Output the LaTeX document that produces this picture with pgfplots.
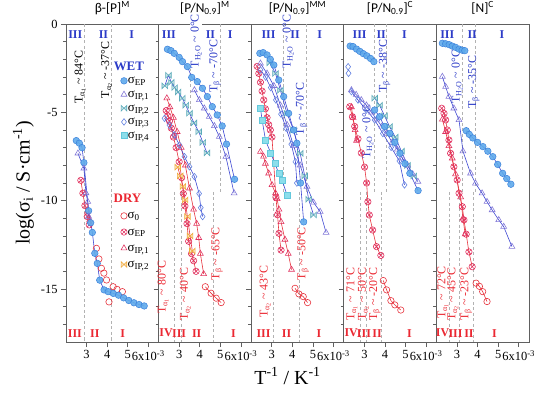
\documentclass[border=0pt]{standalone}
\usepackage{fontspec}
\setmainfont{Liberation Serif}
\newfontfamily\calibri{Carlito}
\usepackage{pgfplots}
\pgfplotsset{compat=1.18}
\usepgfplotslibrary{groupplots}

\definecolor{wline}{RGB}{60,70,210}
\definecolor{wfill}{RGB}{95,170,235}
\definecolor{wdraw}{RGB}{60,130,220}
\definecolor{wtri}{RGB}{130,120,215}
\definecolor{wteal}{RGB}{90,170,185}
\definecolor{wdia}{RGB}{100,130,225}
\definecolor{cfill}{RGB}{140,222,235}
\definecolor{cdraw}{RGB}{100,200,220}
\definecolor{dred}{RGB}{230,50,60}
\definecolor{dpink}{RGB}{225,50,95}
\definecolor{dorange}{RGB}{240,170,60}
\definecolor{numblue}{RGB}{45,60,200}
\definecolor{numred}{RGB}{235,40,50}

\pgfdeclareplotmark{bowtie}{%
  \pgfpathmoveto{\pgfqpoint{-\pgfplotmarksize}{\pgfplotmarksize}}%
  \pgfpathlineto{\pgfqpoint{\pgfplotmarksize}{-\pgfplotmarksize}}%
  \pgfpathlineto{\pgfqpoint{\pgfplotmarksize}{\pgfplotmarksize}}%
  \pgfpathlineto{\pgfqpoint{-\pgfplotmarksize}{-\pgfplotmarksize}}%
  \pgfpathclose
  \pgfusepathqfillstroke}

\pgfplotsset{
  wl/.style={forget plot, color=wline, line width=0.6pt},
  dl/.style={forget plot, color=dred, line width=0.6pt},
  dash/.style={forget plot, gray!60, line width=0.6pt, dash pattern=on 3bp off 2.5bp},
  mEP/.style={mark=*, mark size=3.3bp, mark options={solid, draw=wdraw, fill=wfill, fill opacity=0.9, line width=0.5pt}},
  mIP1/.style={mark=triangle, mark size=3.4bp, mark options={solid, draw=wtri, line width=0.6pt}},
  mIP2/.style={mark=bowtie, mark size=2.8bp, mark options={solid, draw=wteal, fill=wteal!35, line width=0.6pt}},
  mIP3/.style={mark=diamond, mark size=3.3bp, mark options={solid, draw=wdia, line width=0.6pt}},
  mIP4/.style={mark=square*, mark size=3.0bp, mark options={solid, draw=cdraw, fill=cfill, line width=0.5pt}},
  m0/.style={mark=o, mark size=3.2bp, mark options={solid, draw=dred, line width=0.6pt}},
  mEPd/.style={mark=otimes, mark size=3.2bp, mark options={solid, draw=dpink, line width=0.6pt}},
  mIP1d/.style={mark=triangle, mark size=3.4bp, mark options={solid, draw=dpink, line width=0.6pt}},
  mIP2d/.style={mark=bowtie, mark size=2.8bp, mark options={solid, draw=dorange, fill=dorange!35, line width=0.6pt}},
}
\tikzset{
  rb/.style={text=numblue, font=\bfseries\fontsize{12}{12}\selectfont, inner sep=0pt},
  rr/.style={text=numred, font=\bfseries\fontsize{12}{12}\selectfont, inner sep=0pt},
  ann/.style={rotate=90, font=\fontsize{12}{12}\selectfont, inner sep=0.5pt},
}

\begin{document}
\begin{tikzpicture}
\begin{groupplot}[
  group style={group size=5 by 1, horizontal sep=0pt, y descriptions at=edge left},
  scale only axis, width=92.6bp, height=318bp,
  xmin=2, xmax=6.5, ymin=-18, ymax=0,
  xtick={3,4,5,6}, xticklabels={3,4,5,{6x10\textsuperscript{-3}}},
  ytick={0,-5,-10,-15}, yticklabels={0,-5,-10,-15},
  minor ytick={-17,-16,...,-1},
  tick align=outside, xtick pos=bottom, ytick pos=left,
  major tick length=5bp, minor tick length=3bp,
  axis line style={gray!75!black, line width=0.8pt},
  tick style={gray!75!black, line width=0.7pt},
  ticklabel style={font=\fontsize{12.5}{14}\selectfont},
  /pgf/number format/assume math mode=true,
  title style={font=\calibri\fontsize{13.5}{14}\selectfont, at={(0.5,1)}, anchor=base, yshift=5.5bp},
  clip=false,
]
%================ panel 1 ================
\nextgroupplot[title={β-[P]\textsuperscript{M}},
  ylabel={log(σ\textsubscript{i} / S·cm\textsuperscript{-1})},
  ylabel style={font=\fontsize{20}{22}\selectfont},
  legend style={at={(axis cs:4.25,-1.95)}, anchor=north west, draw=none, fill=none,
    font=\fontsize{13}{13}\selectfont, row sep=0.7bp,
    nodes={inner sep=0.5bp, text height=9bp, text depth=3bp}},
  legend cell align=left]
\addlegendimage{empty legend}\addlegendentry{\hspace*{-14bp}\textcolor{numblue}{\bfseries WET}}
\addlegendimage{only marks, mEP}\addlegendentry{σ\textsubscript{EP}}
\addlegendimage{only marks, mIP1}\addlegendentry{σ\textsubscript{IP,1}}
\addlegendimage{only marks, mIP2}\addlegendentry{σ\textsubscript{IP,2}}
\addlegendimage{only marks, mIP3}\addlegendentry{σ\textsubscript{IP,3}}
\addlegendimage{only marks, mIP4}\addlegendentry{σ\textsubscript{IP,4}}
\addplot[dash] coordinates {(2.90,0)(2.90,-18)};
\addplot[dash] coordinates {(4.22,0)(4.22,-18)};
\addplot[only marks, forget plot, m0] coordinates {(3.48,-12.70)(3.60,-13.30)(3.72,-13.83)(3.84,-14.10)(3.97,-14.49)(4.09,-15.73)(4.29,-14.87)(4.48,-15.02)(4.74,-15.15)};
\addplot[dl, mEPd] coordinates {(2.72,-8.85)(2.82,-9.58)(2.92,-10.28)(3.03,-10.90)(3.13,-11.37)};
\addplot[dl, mIP1d] coordinates {(3.05,-10.6)(3.15,-11.1)};
\addplot[wl, mEP] coordinates {(2.50,-6.60)(2.65,-6.75)(2.78,-7.00)(2.87,-7.85)(3.10,-10.57)(3.20,-11.25)(3.28,-11.80)(3.40,-12.98)(3.52,-13.55)(3.64,-14.50)(3.85,-15.05)(4.05,-15.15)(4.30,-15.25)(4.55,-15.35)(4.80,-15.50)(5.05,-15.65)(5.30,-15.78)(5.55,-15.88)(5.80,-15.96)};
\addplot[wl, mIP1] coordinates {(2.58,-7.32)(2.87,-8.17)(2.97,-9.57)(3.06,-10.06)(3.10,-10.90)};
\node[rb] at (axis cs:2.45,-0.62) {III};
\node[rb] at (axis cs:3.82,-0.62) {II};
\node[rb] at (axis cs:5.19,-0.62) {I};
\node[rr] at (axis cs:2.43,-17.5) {III};
\node[rr] at (axis cs:3.40,-17.5) {II};
\node[rr] at (axis cs:4.75,-17.5) {I};
\node[ann] at (axis cs:2.69,-3.0) {T\textsubscript{α\textsubscript{1}} \textasciitilde\ 84°C};
\node[ann] at (axis cs:3.98,-2.6) {T\textsubscript{α\textsubscript{2}} \textasciitilde\ -37°C};
%================ panel 2 ================
\nextgroupplot[title={[P/N\textsubscript{0.9}]\textsuperscript{M}}]
\addplot[dash] coordinates {(3.55,0)(3.55,-9.5)};
\addplot[dash] coordinates {(5.00,0)(5.00,-9.5)};
\addplot[dash] coordinates {(2.74,-9.5)(2.74,-18)};
\addplot[dash] coordinates {(3.11,-9.5)(3.11,-18)};
\addplot[dash] coordinates {(4.67,-9.5)(4.67,-18)};
\addplot[dl, m0] coordinates {(4.27,-14.87)(4.55,-15.24)(4.80,-15.52)(5.04,-15.77)};
\addplot[dl, mIP1d] coordinates {(2.40,-4.2)(2.55,-4.7)(2.72,-5.3)(2.90,-6.1)(3.10,-7.0)(3.30,-8.0)(3.50,-9.3)(3.70,-10.5)(3.85,-11.3)(3.95,-12.1)(4.03,-13.0)(4.19,-14.15)};
\addplot[dl, mEPd] coordinates {(2.37,-4.9)(2.45,-5.2)(2.53,-5.5)(2.62,-5.9)(2.72,-6.4)(2.85,-7.0)(3.00,-7.8)(3.12,-8.7)(3.20,-9.6)(3.28,-10.3)(3.38,-11.3)(3.46,-12.3)(3.60,-13.0)(3.70,-13.4)(3.82,-14.0)};
\addplot[dl, mIP2d] coordinates {(2.93,-8.1)(3.05,-8.6)(3.18,-9.2)(3.29,-9.96)(3.40,-10.9)(3.53,-12.0)(3.64,-12.85)};
\addplot[wl, mIP3] coordinates {(2.29,-5.34)(2.53,-5.72)(2.77,-6.28)(3.01,-6.85)(3.26,-7.51)(3.50,-8.08)(3.74,-8.64)(3.97,-9.6)(4.05,-10.4)(4.14,-10.9)};
\addplot[wl, mIP2] coordinates {(2.30,-3.5)(2.48,-2.9)(2.62,-3.3)(2.78,-3.6)(2.95,-3.85)(3.15,-4.2)(3.32,-4.6)(3.50,-5.05)(3.72,-5.6)(3.95,-6.1)(4.15,-6.7)(4.35,-7.3)};
\addplot[wl, mIP1] coordinates {(3.74,-3.74)(3.98,-4.30)(4.22,-4.77)(4.46,-5.25)(4.71,-5.77)(4.95,-6.38)(5.27,-7.51)(5.67,-9.58)};
\addplot[wl, mEP] coordinates {(2.43,-1.43)(2.60,-1.51)(2.76,-1.66)(3.00,-1.89)(3.16,-2.13)(3.40,-2.41)(3.61,-3.02)(3.88,-3.26)(4.13,-3.64)(4.37,-4.11)(4.61,-4.68)(4.85,-5.15)(5.09,-5.77)(5.30,-6.80)(5.69,-8.79)};
\node[rb] at (axis cs:2.50,-0.62) {III};
\node[rb] at (axis cs:4.52,-0.62) {II};
\node[rb] at (axis cs:5.48,-0.62) {I};
\node[rr] at (axis cs:2.36,-17.5) {IV};
\node[rr] at (axis cs:3.00,-17.5) {III};
\node[rr] at (axis cs:3.85,-17.5) {II};
\node[rr] at (axis cs:5.64,-17.5) {I};
\node[ann, text=numblue, fill=white] at (axis cs:3.82,-0.97) {T\textsubscript{H\textsubscript{2}O} \textasciitilde\ 0°C};
\node[ann, text=numblue] at (axis cs:4.75,-2.4) {T\textsubscript{β} \textasciitilde\ -70°C};
\node[ann, text=numred] at (axis cs:2.22,-14.9) {T\textsubscript{α\textsubscript{1}} \textasciitilde\ 80°C};
\node[ann, text=numred] at (axis cs:3.30,-15.3) {T\textsubscript{α\textsubscript{2}} \textasciitilde\ 40°C};
\node[ann, text=numred] at (axis cs:4.84,-13.0) {T\textsubscript{β} \textasciitilde\ -65°C};
%================ panel 3 ================
\nextgroupplot[title={[P/N\textsubscript{0.9}]\textsuperscript{MM}},
  xlabel={T\textsuperscript{-1} / K\textsuperscript{-1}},
  xlabel style={font=\fontsize{20}{22}\selectfont, xshift=-10bp}]
\addplot[dash] coordinates {(3.56,0)(3.56,-9.5)};
\addplot[dash] coordinates {(4.69,0)(4.69,-9.5)};
\addplot[dash] coordinates {(3.08,-9.5)(3.08,-18)};
\addplot[dash] coordinates {(4.32,-9.5)(4.32,-18)};
\addplot[dl, m0] coordinates {(4.13,-14.96)(4.32,-15.28)(4.53,-15.43)(4.74,-15.77)};
\addplot[dl, mIP1d] coordinates {(2.45,-7.23)(2.60,-7.50)(2.69,-7.90)(2.85,-8.45)(3.01,-9.11)(3.18,-9.58)(3.26,-9.9)(3.35,-10.5)(3.45,-11.2)(3.64,-12.2)(3.80,-13.0)(3.96,-13.9)};
\addplot[dl, mEPd] coordinates {(2.29,-2.4)(2.37,-2.8)(2.45,-3.3)(2.53,-3.8)(2.61,-4.3)(2.69,-4.8)(2.77,-5.3)(2.85,-5.7)(2.93,-6.0)(3.01,-6.4)(3.20,-9.8)(3.28,-10.8)(3.35,-11.85)(3.45,-12.8)};
\addplot[wl, mIP4] coordinates {(2.45,-4.77)(2.53,-5.43)(2.70,-6.6)(2.95,-7.3)(3.15,-7.9)(3.34,-8.45)(3.50,-8.83)(3.74,-9.68)};
\addplot[wl, mIP3] coordinates {(2.45,-2.6)(2.70,-3.0)(2.95,-3.6)(3.20,-4.3)(3.45,-5.1)(3.70,-5.9)(3.95,-6.8)(4.15,-7.8)(4.22,-9.0)};
\addplot[wl, mIP2] coordinates {(2.90,-2.2)(3.18,-2.8)(3.42,-3.75)(3.74,-5.06)(4.06,-6.0)(4.38,-7.32)(4.60,-8.6)(4.79,-9.92)(5.03,-10.81)};
\addplot[wl, mIP1] coordinates {(2.45,-2.23)(2.77,-2.80)(3.10,-3.50)(3.42,-4.60)(3.74,-5.70)(4.06,-6.90)(4.38,-8.00)(4.71,-9.20)(5.03,-10.10)(5.35,-10.62)(5.64,-11.81)};
\addplot[wl, mEP] coordinates {(2.42,-1.66)(2.58,-1.62)(2.77,-1.75)(2.93,-2.00)(3.10,-2.32)(3.34,-3.17)(3.58,-4.11)(3.82,-5.06)(4.06,-6.00)(4.22,-6.75)(4.40,-9.0)(4.55,-11.2)};
\node[rb] at (axis cs:2.84,-0.62) {III};
\node[rb] at (axis cs:4.13,-0.62) {II};
\node[rb] at (axis cs:5.33,-0.62) {I};
\node[rr] at (axis cs:2.60,-17.5) {III};
\node[rr] at (axis cs:3.72,-17.5) {II};
\node[rr] at (axis cs:5.29,-17.5) {I};
\node[ann, text=numblue] at (axis cs:3.80,-1.0) {T\textsubscript{H\textsubscript{2}O} \textasciitilde\ 0°C};
\node[ann, text=numblue] at (axis cs:4.45,-4.8) {T\textsubscript{β} \textasciitilde\ -70°C};
\node[ann, text=numred] at (axis cs:2.68,-15.15) {T\textsubscript{α\textsubscript{2}} \textasciitilde\ 43°C};
\node[ann, text=numred] at (axis cs:4.53,-13.0) {T\textsubscript{β} \textasciitilde\ -50°C};
%================ panel 4 ================
\nextgroupplot[title={[P/N\textsubscript{0.9}]\textsuperscript{C}}]
\addplot[dash] coordinates {(3.50,0)(3.50,-9.5)};
\addplot[dash] coordinates {(4.06,0)(4.06,-9.5)};
\addplot[dash] coordinates {(2.79,-9.5)(2.79,-18)};
\addplot[dash] coordinates {(3.11,-9.5)(3.11,-18)};
\addplot[dash] coordinates {(3.84,-9.5)(3.84,-18)};
\addplot[dl, m0] coordinates {(3.92,-14.52)(4.08,-15.05)(4.29,-15.66)(4.48,-15.90)(4.77,-16.19)};
\addplot[dl, mIP1d] coordinates {(2.37,-4.7)(2.45,-5.3)(2.55,-6.0)(2.62,-6.6)};
\addplot[dl, mEPd] coordinates {(2.29,-4.68)(2.42,-5.25)(2.53,-5.80)(2.69,-6.50)(2.85,-7.30)(3.01,-8.10)(3.11,-9.00)(3.17,-10.06)(3.24,-10.81)(3.40,-11.66)(3.59,-12.60)(3.80,-13.10)};
\addplot[wl, mIP3] coordinates {(2.37,-3.83)(2.69,-4.30)(3.10,-4.87)(3.50,-5.43)(3.90,-6.20)(4.30,-6.98)(4.70,-7.75)(4.95,-9.11)};
\addplot[only marks, forget plot, mIP3] coordinates {(2.21,-2.42)(2.23,-2.79)};
\addplot[wl, mIP2] coordinates {(3.50,-4.2)(3.74,-4.6)(3.98,-5.2)(4.22,-5.8)(4.50,-6.4)(4.80,-7.2)(5.10,-8.0)(5.40,-8.6)};
\addplot[wl, mIP1] coordinates {(2.37,-3.74)(2.60,-4.0)(2.85,-4.3)(3.10,-4.6)(3.35,-5.0)(3.60,-5.4)(3.85,-5.8)(4.10,-6.2)(4.35,-6.7)(4.60,-7.1)(4.85,-7.6)(5.10,-8.0)(5.35,-8.5)(5.60,-8.92)};
\addplot[wl, mEP] coordinates {(2.31,-1.25)(2.45,-1.28)(2.62,-1.42)(2.78,-1.55)(2.95,-1.68)(3.12,-1.80)(3.30,-1.95)(3.46,-2.13)};
\addplot[wl, mEP] coordinates {(3.50,-4.87)(3.74,-5.25)(3.98,-5.80)(4.24,-6.19)(4.48,-6.70)(4.73,-7.32)(4.97,-7.90)(5.21,-8.45)(5.61,-9.43)};
\node[rb] at (axis cs:2.77,-0.62) {III};
\node[rb] at (axis cs:3.82,-0.62) {II};
\node[rb] at (axis cs:4.95,-0.62) {I};
\node[rr] at (axis cs:2.36,-17.5) {IV};
\node[rr] at (axis cs:2.98,-17.5) {III};
\node[rr] at (axis cs:3.62,-17.5) {II};
\node[rr] at (axis cs:5.19,-17.5) {I};
\node[ann, text=numblue] at (axis cs:3.98,-2.4) {T\textsubscript{β} \textasciitilde\ -38°C};
\node[ann, text=numblue] at (axis cs:3.17,-6.1) {T\textsubscript{H\textsubscript{2}O} \textasciitilde\ 0°C};
\node[ann, text=numred] at (axis cs:2.39,-15.3) {T\textsubscript{α\textsubscript{1}} \textasciitilde\ 71°C};
\node[ann, text=numred] at (axis cs:2.95,-15.3) {T\textsubscript{α\textsubscript{2}} \textasciitilde\ 50°C};
\node[ann, text=numred] at (axis cs:3.51,-15.3) {T\textsubscript{β} \textasciitilde\ -20°C};
%================ panel 5 ================
\nextgroupplot[title={[N]\textsuperscript{C}}]
\addplot[dash] coordinates {(3.26,0)(3.26,-9.5)};
\addplot[dash] coordinates {(3.90,0)(3.90,-9.5)};
\addplot[dash] coordinates {(2.64,-9.5)(2.64,-18)};
\addplot[dash] coordinates {(3.13,-9.5)(3.13,-18)};
\addplot[dash] coordinates {(3.77,-9.5)(3.77,-18)};
\addplot[dl, m0] coordinates {(3.93,-14.67)(4.09,-14.85)(4.25,-15.15)(4.46,-15.71)};
\addplot[dl, mIP1d] coordinates {(2.29,-5.4)(2.45,-6.1)(2.61,-6.9)(2.77,-7.6)(2.93,-8.5)(3.18,-9.8)(3.29,-11.0)(3.40,-11.9)};
\addplot[dl, mEPd] coordinates {(2.26,-4.77)(2.37,-5.06)(2.45,-5.43)(2.53,-6.00)(2.61,-6.57)(2.69,-7.32)(2.85,-8.08)(3.01,-8.83)(3.10,-9.58)(3.26,-10.34)(3.34,-11.09)(3.45,-11.90)(3.58,-12.90)(3.74,-13.74)};
\addplot[wl, mIP1] coordinates {(2.29,-2.98)(2.45,-3.55)(2.61,-4.11)(2.85,-4.77)(3.10,-5.43)(3.29,-7.20)(3.66,-8.45)(3.90,-9.02)(4.22,-9.58)(4.46,-10.06)(4.71,-10.53)(5.03,-11.09)(5.27,-11.47)(5.67,-12.60)};
\addplot[wl, mEP] coordinates {(2.29,-1.09)(2.45,-1.12)(2.62,-1.17)(2.77,-1.25)(2.93,-1.32)(3.10,-1.42)(3.25,-1.48)(3.38,-1.51)};
\addplot[wl, mEP] coordinates {(3.45,-6.04)(3.60,-6.25)(3.77,-6.45)(4.00,-6.70)(4.26,-6.94)(4.50,-7.20)(4.74,-7.51)(4.98,-7.95)(5.22,-8.45)(5.42,-8.75)(5.62,-9.07)};
\node[rb] at (axis cs:2.53,-0.62) {III};
\node[rb] at (axis cs:3.74,-0.62) {II};
\node[rb] at (axis cs:5.19,-0.62) {I};
\node[rr] at (axis cs:2.30,-17.5) {IV};
\node[rr] at (axis cs:2.93,-17.5) {III};
\node[rr] at (axis cs:3.58,-17.5) {II};
\node[rr] at (axis cs:4.82,-17.5) {I};
\node[ann, text=numblue] at (axis cs:3.01,-3.0) {T\textsubscript{H\textsubscript{2}O} \textasciitilde\ 0°C};
\node[ann, text=numblue] at (axis cs:3.82,-3.3) {T\textsubscript{β} \textasciitilde\ -35°C};
\node[ann, text=numred] at (axis cs:2.32,-15.2) {T\textsubscript{α\textsubscript{1}} \textasciitilde\ 72°C};
\node[ann, text=numred] at (axis cs:2.80,-15.3) {T\textsubscript{α\textsubscript{2}} \textasciitilde\ 45°C};
\node[ann, text=numred] at (axis cs:3.45,-15.3) {T\textsubscript{β} \textasciitilde\ -23°C};
\end{groupplot}
%================ DRY legend overlay ================
\begin{axis}[at={(group c1r1.south west)}, anchor=south west,
  scale only axis, width=92.6bp, height=318bp,
  xmin=2, xmax=6.5, ymin=-18, ymax=0, hide axis,
  legend style={at={(axis cs:4.25,-9.45)}, anchor=north west, draw=none, fill=none,
    font=\fontsize{13}{13}\selectfont, row sep=3.2bp,
    nodes={inner sep=0.5bp, text height=9bp, text depth=3bp}},
  legend cell align=left]
\addlegendimage{empty legend}\addlegendentry{\hspace*{-14bp}\textcolor{numred}{\bfseries DRY}}
\addlegendimage{only marks, m0}\addlegendentry{σ\textsubscript{0}}
\addlegendimage{only marks, mEPd}\addlegendentry{σ\textsubscript{EP}}
\addlegendimage{only marks, mIP1d}\addlegendentry{σ\textsubscript{IP,1}}
\addlegendimage{only marks, mIP2d}\addlegendentry{σ\textsubscript{IP,2}}
\end{axis}
\pgfresetboundingbox
\path ([shift={(-66bp,-55bp)}]group c1r1.south west) rectangle ([shift={(488bp,342bp)}]group c1r1.south west);
\end{tikzpicture}
\end{document}
